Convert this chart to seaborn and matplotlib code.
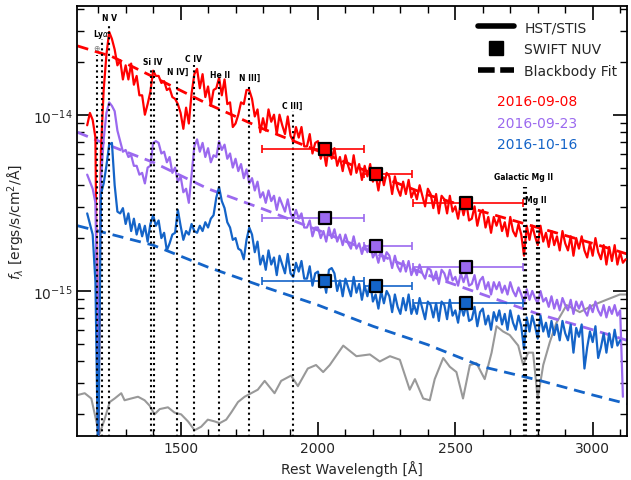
import numpy as np
import pandas as pd
import matplotlib
matplotlib.use('Agg')
import matplotlib.pyplot as plt
from matplotlib.lines import Line2D
from matplotlib.ticker import MultipleLocator, LogLocator, NullFormatter
import seaborn as sns

# HST/STIS spectra, log10 f_lambda, 10 A steps from 1160 A
red_logf = [
    -14.06, -13.99, -14.03, -14.13, -15.90, -14.20, -13.86, -13.66, -13.53, -13.57,
    -13.63, -13.72, -13.69, -13.80, -13.72, -13.80, -13.71, -13.83, -13.78, -13.89,
    -13.89, -14.00, -13.94, -13.87, -13.75, -13.78, -13.78, -13.82, -13.81, -13.86,
    -13.85, -13.90, -13.91, -13.94, -13.99, -14.08, -13.96, -14.05, -13.88, -13.77,
    -13.74, -13.85, -13.77, -13.90, -13.84, -13.95, -13.86, -13.85, -13.79, -13.89,
    -13.80, -13.94, -13.93, -14.07, -14.05, -14.00, -13.93, -13.94, -13.86, -13.86,
    -13.91, -14.01, -13.97, -14.10, -14.02, -14.09, -13.97, -14.04, -14.00, -14.11,
    -14.00, -14.06, -14.11, -14.01, -14.12, -14.15, -14.07, -14.13, -14.07, -14.18,
    -14.18, -14.11, -14.22, -14.16, -14.15, -14.25, -14.20, -14.29, -14.17, -14.25,
    -14.19, -14.29, -14.24, -14.32, -14.23, -14.29, -14.34, -14.23, -14.33, -14.28,
    -14.37, -14.29, -14.35, -14.28, -14.38, -14.34, -14.43, -14.33, -14.40, -14.33,
    -14.35, -14.45, -14.35, -14.42, -14.46, -14.38, -14.45, -14.37, -14.47, -14.43,
    -14.48, -14.40, -14.46, -14.52, -14.42, -14.45, -14.53, -14.45, -14.56, -14.46,
    -14.48, -14.56, -14.46, -14.55, -14.52, -14.59, -14.50, -14.57, -14.50, -14.60,
    -14.59, -14.52, -14.63, -14.56, -14.54, -14.64, -14.58, -14.67, -14.58, -14.63,
    -14.58, -14.66, -14.61, -14.69, -14.58, -14.66, -14.69, -14.62, -14.68, -14.80,
    -14.63, -14.71, -14.63, -14.69, -14.74, -14.63, -14.72, -14.67, -14.75, -14.66,
    -14.74, -14.69, -14.77, -14.66, -14.73, -14.77, -14.69, -14.80, -14.70, -14.76,
    -14.69, -14.77, -14.81, -14.73, -14.80, -14.70, -14.78, -14.82, -14.74, -14.85,
    -14.75, -14.83, -14.74, -14.85, -14.78, -14.84, -14.82]
purple_logf = [
    -14.34, -14.38, -14.42, -14.50, -15.50, -14.37, -14.14, -13.99, -13.93, -13.95,
    -13.98, -14.09, -14.15, -14.21, -14.20, -14.24, -14.23, -14.29, -14.29, -14.34,
    -14.33, -14.39, -14.30, -14.29, -14.16, -14.15, -14.16, -14.22, -14.21, -14.27,
    -14.24, -14.33, -14.30, -14.38, -14.35, -14.44, -14.42, -14.50, -14.34, -14.18,
    -14.14, -14.21, -14.16, -14.24, -14.19, -14.27, -14.23, -14.24, -14.15, -14.20,
    -14.17, -14.25, -14.22, -14.30, -14.25, -14.32, -14.28, -14.36, -14.31, -14.39,
    -14.36, -14.43, -14.38, -14.47, -14.44, -14.50, -14.43, -14.49, -14.46, -14.54,
    -14.47, -14.51, -14.55, -14.48, -14.56, -14.59, -14.54, -14.59, -14.56, -14.64,
    -14.64, -14.60, -14.69, -14.64, -14.64, -14.70, -14.66, -14.72, -14.64, -14.70,
    -14.65, -14.72, -14.68, -14.74, -14.68, -14.73, -14.76, -14.69, -14.76, -14.73,
    -14.79, -14.74, -14.78, -14.73, -14.81, -14.78, -14.84, -14.77, -14.83, -14.78,
    -14.80, -14.87, -14.80, -14.86, -14.89, -14.83, -14.89, -14.83, -14.91, -14.87,
    -14.91, -14.85, -14.90, -14.93, -14.87, -14.88, -14.94, -14.89, -14.96, -14.88,
    -14.90, -14.95, -14.88, -14.94, -14.92, -14.97, -14.90, -14.95, -14.90, -14.97,
    -14.96, -14.91, -14.99, -14.94, -14.92, -14.99, -14.95, -15.02, -14.95, -14.99,
    -14.95, -15.01, -14.97, -15.02, -14.95, -15.00, -15.03, -14.98, -15.02, -15.07,
    -14.99, -15.05, -15.00, -15.04, -15.07, -15.00, -15.06, -15.04, -15.09, -15.03,
    -15.10, -15.05, -15.11, -15.04, -15.08, -15.11, -15.05, -15.13, -15.06, -15.10,
    -15.06, -15.11, -15.14, -15.08, -15.12, -15.06, -15.11, -15.14, -15.08, -15.15,
    -15.09, -15.13, -15.08, -15.14, -15.11, -15.60]
blue_logf = [
    -14.56, -14.62, -14.68, -14.95, -16.00, -14.45, -14.39, -14.29, -14.17, -14.16,
    -14.40, -14.55, -14.56, -14.53, -14.62, -14.56, -14.66, -14.59, -14.68, -14.62,
    -14.69, -14.63, -14.72, -14.62, -14.57, -14.63, -14.60, -14.70, -14.67, -14.77,
    -14.73, -14.68, -14.67, -14.54, -14.63, -14.71, -14.66, -14.68, -14.62, -14.66,
    -14.67, -14.63, -14.66, -14.61, -14.64, -14.59, -14.57, -14.47, -14.41, -14.49,
    -14.53, -14.61, -14.64, -14.71, -14.70, -14.76, -14.77, -14.82, -14.71, -14.64,
    -14.68, -14.78, -14.72, -14.85, -14.80, -14.88, -14.77, -14.85, -14.81, -14.91,
    -14.80, -14.85, -14.90, -14.79, -14.90, -14.92, -14.84, -14.89, -14.83, -14.93,
    -14.93, -14.86, -14.97, -14.90, -14.89, -14.98, -14.93, -15.01, -14.88, -14.87,
    -14.90, -15.00, -14.94, -15.03, -14.93, -14.98, -15.03, -14.92, -15.01, -14.96,
    -15.05, -14.97, -15.03, -14.95, -15.06, -15.02, -15.10, -15.00, -15.07, -15.00,
    -15.03, -15.12, -15.02, -15.09, -15.13, -15.04, -15.11, -15.02, -15.13, -15.08,
    -15.13, -15.04, -15.10, -15.16, -15.06, -15.08, -15.15, -15.07, -15.17, -15.06,
    -15.08, -15.16, -15.05, -15.14, -15.11, -15.18, -15.08, -15.14, -15.08, -15.17,
    -15.16, -15.09, -15.20, -15.12, -15.10, -15.19, -15.14, -15.22, -15.12, -15.17,
    -15.11, -15.19, -15.13, -15.22, -15.11, -15.18, -15.22, -15.14, -15.20, -15.33,
    -15.15, -15.23, -15.14, -15.20, -15.27, -15.14, -15.23, -15.18, -15.26, -15.17,
    -15.25, -15.19, -15.28, -15.17, -15.24, -15.28, -15.19, -15.35, -15.21, -15.26,
    -15.19, -15.44, -15.32, -15.23, -15.29, -15.20, -15.38, -15.32, -15.24, -15.35,
    -15.24, -15.32, -15.22, -15.31, -15.28]

# comparison spectrum (grey)
gray_wave = [1126, 1151, 1175, 1199, 1205, 1223, 1242, 1260, 1284, 1296, 1320, 1345, 1369,
             1387, 1405, 1424, 1454, 1478, 1502, 1527, 1551, 1575, 1599, 1624, 1642, 1666,
             1684, 1709, 1733, 1757, 1781, 1806, 1842, 1866, 1902, 1927, 1963, 1993, 2019,
             2043, 2092, 2140, 2189, 2225, 2262, 2298, 2334, 2353, 2383, 2407, 2425, 2456,
             2480, 2504, 2528, 2553, 2577, 2607, 2632, 2650, 2674, 2698, 2729, 2747, 2765,
             2783, 2800, 2820, 2844, 2868, 2905, 2953, 3002, 3050, 3099, 3139]
gray_logf = [-15.59, -15.58, -15.61, -15.78, -15.81, -15.73, -15.63, -15.61, -15.58, -15.62,
             -15.61, -15.60, -15.62, -15.65, -15.70, -15.67, -15.66, -15.69, -15.70, -15.74,
             -15.79, -15.77, -15.73, -15.74, -15.75, -15.73, -15.69, -15.63, -15.60, -15.58,
             -15.56, -15.51, -15.58, -15.51, -15.48, -15.54, -15.44, -15.42, -15.46, -15.42,
             -15.31, -15.37, -15.36, -15.40, -15.37, -15.39, -15.56, -15.50, -15.61, -15.62,
             -15.50, -15.38, -15.43, -15.46, -15.61, -15.42, -15.41, -15.50, -15.35, -15.20,
             -15.23, -15.25, -15.31, -15.42, -15.35, -15.35, -15.61, -15.42, -15.29, -15.18,
             -15.08, -15.12, -15.08, -15.05, -15.02, -15.02]

# blackbody fits
bb_wave = [1125, 1250, 1400, 1600, 1800, 2000, 2200, 2400, 2600, 2800, 3000, 3125]
red_bb = [-13.61, -13.67, -13.785, -13.94, -14.08, -14.205, -14.335, -14.455, -14.55, -14.64, -14.73, -14.79]
purple_bb = [-14.10, -14.18, -14.27, -14.42, -14.535, -14.655, -14.78, -14.91, -15.02, -15.13, -15.22, -15.28]
blue_bb = [-14.63, -14.68, -14.74, -14.865, -14.975, -15.08, -15.20, -15.305, -15.43, -15.505, -15.59, -15.64]

# SWIFT UVOT NUV photometry
swift_wave = [2025, 2210, 2540]
swift_lo = [1798, 2167, 2345]
swift_hi = [2167, 2344, 2747]
red_swift = [6.39e-15, 4.61e-15, 3.15e-15]
purple_swift = [2.59e-15, 1.80e-15, 1.36e-15]
blue_swift = [1.14e-15, 1.07e-15, 8.6e-16]

dates = ['2016-09-08', '2016-09-23', '2016-10-16']
colors = ['#ff0000', '#9b69ef', '#1464c8']

# line identifications
line_names = ['$\\oplus$', 'Ly$\\alpha$', 'N V', 'Si IV', 'N IV]', 'C IV', 'He II', 'N III]',
              'C III]', 'Galactic Mg II', 'Mg II']
line_waves = [[1196.2], [1215.7], [1240.0], [1393.8, 1402.8], [1486.5], [1549.0], [1640.4],
              [1750.0], [1908.7], [2751.5, 2758.6], [2796.4, 2803.5]]
line_top = [-13.66, -13.57, -13.49, -13.74, -13.79, -13.72, -13.81, -13.83, -13.98, -14.41, -14.52]
label_wave = [1195, 1210, 1243, 1398, 1488, 1548, 1643, 1752, 1908, 2749, 2793]
label_logf = [-13.616, -13.537, -13.446, -13.70, -13.752, -13.684, -13.77, -13.786, -13.945, -14.353, -14.482]

sns.set_theme(style='ticks')
plt.rcParams.update({
    'font.family': ['DejaVu Sans'],
    'xtick.direction': 'in', 'ytick.direction': 'in',
    'xtick.top': True, 'ytick.right': True,
    'xtick.major.size': 10, 'ytick.major.size': 10,
    'xtick.minor.size': 5, 'ytick.minor.size': 5,
    'xtick.major.width': 1.2, 'ytick.major.width': 1.2,
    'xtick.minor.width': 1.0, 'ytick.minor.width': 1.0,
    'axes.edgecolor': 'black', 'axes.linewidth': 1.3,
    'xtick.color': 'black', 'ytick.color': 'black',
    'xtick.labelcolor': '#262626', 'ytick.labelcolor': '#262626',
})

fig = plt.figure(figsize=(6.31, 4.81), dpi=100)
ax = fig.add_axes([0.1225, 0.0921, 0.8712, 0.8927])
ax.set_yscale('log')

sns.lineplot(x=gray_wave, y=10 ** np.array(gray_logf), color='#999999', lw=1.5,
             estimator=None, sort=False, ax=ax, zorder=1)

spectra = [red_logf, purple_logf, blue_logf]
bbs = [red_bb, purple_bb, blue_bb]
swifts = [red_swift, purple_swift, blue_swift]
for logf, bb, sw, c in zip(spectra, bbs, swifts, colors):
    wave = 1160 + 10 * np.arange(len(logf))
    df = pd.DataFrame({'wave': wave, 'flux': 10 ** np.array(logf)})
    sns.lineplot(data=df, x='wave', y='flux', color=c, lw=1.6, estimator=None,
                 sort=False, ax=ax, zorder=3)
    sns.lineplot(x=bb_wave, y=10 ** np.array(bb), color=c, lw=2.0,
                 linestyle=(0, (4, 2.5)), estimator=None, sort=False, ax=ax, zorder=2)
    xerr = [np.array(swift_wave) - np.array(swift_lo), np.array(swift_hi) - np.array(swift_wave)]
    ax.errorbar(swift_wave, sw, xerr=xerr, fmt='none', ecolor=c, elinewidth=1.2,
                capsize=3, capthick=1.2, zorder=5)
    sns.scatterplot(x=swift_wave, y=sw, marker='s', s=85, color=c, edgecolor='black',
                    linewidth=1.6, ax=ax, zorder=6)

for name, ws, top, lw_, lf in zip(line_names, line_waves, line_top, label_wave, label_logf):
    ax.vlines(ws, 1e-17, 10 ** top, colors='black', linestyles=':', lw=1.5, zorder=4)
    ax.text(lw_, 10 ** lf, name, ha='center', va='center', fontsize=5.5,
            fontweight='bold', color='#777777' if name == '$\\oplus$' else 'black')

ax.set_xlim(1124, 3125)
ax.set_ylim(1.51e-16, 4.12e-14)
ax.set_yticks([1e-15, 1e-14])
ax.yaxis.set_minor_locator(LogLocator(base=10, subs=np.arange(2, 10)))
ax.yaxis.set_minor_formatter(NullFormatter())
ax.xaxis.set_major_locator(MultipleLocator(500))
ax.xaxis.set_minor_locator(MultipleLocator(100))
ax.tick_params(labelsize=10)
ax.set_xlabel('Rest Wavelength [Å]', fontsize=10, color='#262626')
ax.set_ylabel('$f_\\lambda$ [ergs/s/cm$^2$/Å]', fontsize=10, color='#262626')

handles = [Line2D([], [], color='black', lw=4),
           Line2D([], [], color='black', marker='s', ls='none', ms=10),
           Line2D([], [], color='black', lw=4, ls=(0, (3, 1)))]
ax.legend(handles, ['HST/STIS', 'SWIFT NUV', 'Blackbody Fit'], loc='upper right',
          bbox_to_anchor=(1.0, 0.99), frameon=False, fontsize=10, handlelength=2.6,
          handletextpad=0.7, labelspacing=0.55, borderaxespad=0.3)
for i, (d, c) in enumerate(zip(dates, colors)):
    ax.text(0.909, 0.779 - 0.05 * i, d, transform=ax.transAxes, ha='right', va='center',
            color=c, fontsize=10)

fig.savefig('out.png', dpi=100)
